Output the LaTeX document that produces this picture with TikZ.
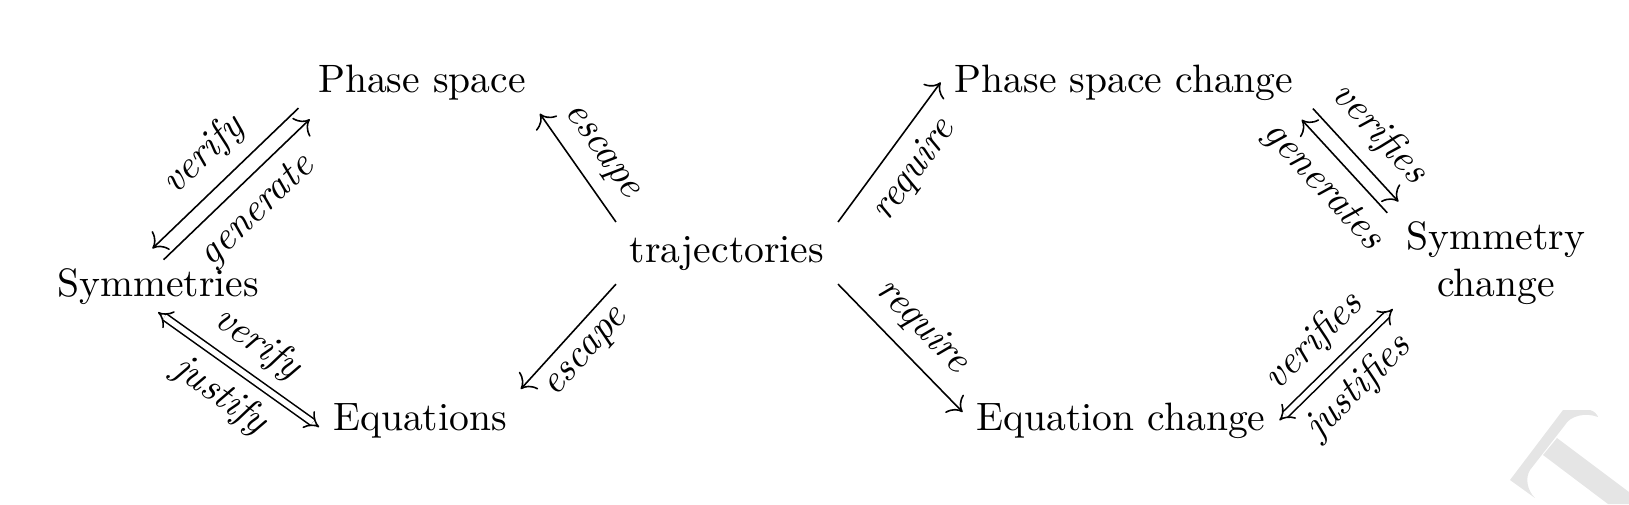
\documentclass[tikz,border=0pt]{standalone}
\usetikzlibrary{arrows.meta}

\begin{document}
\begin{tikzpicture}[
        x=0.2525pt, y=-0.2525pt,
        term/.style={anchor=base},
        arr/.style={-{Computer Modern Rightarrow[scale=1.25]}},
        dbl/.style={double, double distance=1.4pt, {Implies}-{Implies}},
        lab/.style={sloped, midway, font=\itshape},
    ]
    \useasboundingbox (0,0) rectangle (1629,504);
    % faint mark in the corner
    \fill[black!10] (1510,480) -- (1563,410) -- (1590,410)
        .. controls (1594,411) and (1597,414) .. (1598,417)
        .. controls (1585,412) and (1570,416) .. (1565,425)
        -- (1530,470) .. controls (1525,478) and (1527,490) .. (1535,498) -- cycle;
    \fill[black!10] (1557,438) -- (1629,492) -- (1629,504) -- (1608,504) -- (1543,455) -- cycle;

    \node[term] (ps) at (422,92) {Phase space};
    \node[term] (sym) at (158,296) {Symmetries};
    \node[term] (eq) at (420,430) {Equations};
    \node[term] (traj) at (727,262) {trajectories};
    \node[term] (psc) at (1124,92) {Phase space change};
    \node[term] (eqc) at (1121,430) {Equation change};
    \node[align=center] (symc) at (1496,263) {Symmetry\\change};

    \draw[arr, transform canvas={shift={(135:2pt)}}] (ps.south west) -- node[lab, above] {verify} (sym.north);
    \draw[arr, transform canvas={shift={(-45:2pt)}}] (sym.north) -- node[lab, below] {generate} (ps.south west);
    \draw[dbl] ([yshift=1.5pt]sym.south) -- node[lab, above] {verify} node[lab, below] {justify} ([yshift=-1.7pt]eq.west);
    \draw[arr] (traj.north west) -- node[lab, above] {escape} (ps.south east);
    \draw[arr] (traj.south west) -- node[lab, below] {escape} (eq.north east);
    \draw[arr] (traj.north east) -- node[lab, below] {require} (psc.west);
    \draw[arr] (traj.south east) -- node[lab, above] {require} (eqc.177);
    \draw[arr, transform canvas={shift={(45:2pt)}}] (psc.south east) -- node[lab, above] {verifies} (symc.north west);
    \draw[arr, transform canvas={shift={(225:2pt)}}] (symc.north west) -- node[lab, below] {generates} (psc.south east);
    \draw[dbl] (eqc.east) -- node[lab, above] {verifies} node[lab, below] {justifies} (symc.204);
\end{tikzpicture}
\end{document}
